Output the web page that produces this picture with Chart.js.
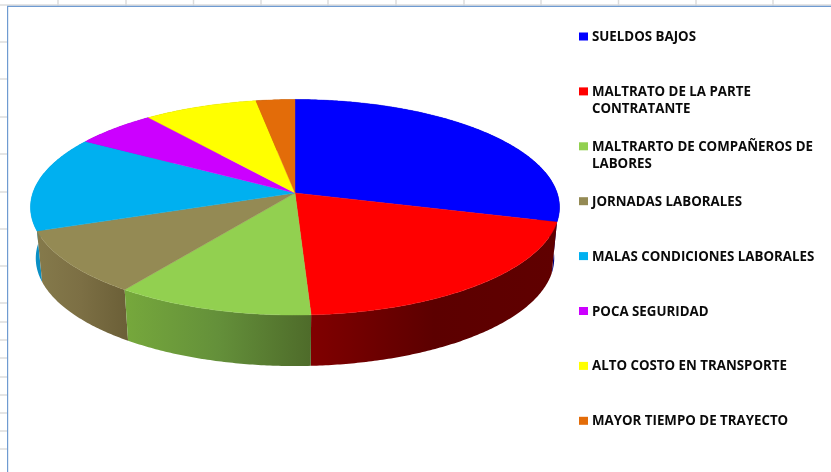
<!DOCTYPE html>
<html><head><meta charset="utf-8">
<style>html,body{margin:0;padding:0;background:#fff}#w{position:relative;width:831px;height:472px}</style>
<script src="https://cdn.jsdelivr.net/npm/chart.js@4"></script>
</head><body><div id="w"><canvas id="c" width="831" height="472"></canvas></div>
<script>
const categories = ["SUELDOS BAJOS","MALTRATO DE LA PARTE CONTRATANTE","MALTRARTO DE COMPAÑEROS DE LABORES","JORNADAS LABORALES","MALAS CONDICIONES LABORALES","POCA SEGURIDAD","ALTO COSTO EN TRANSPORTE","MAYOR TIEMPO DE TRAYECTO"];
const legendLines = [["SUELDOS BAJOS"],["MALTRATO DE LA PARTE","CONTRATANTE"],["MALTRARTO DE COMPAÑEROS DE","LABORES"],["JORNADAS LABORALES"],["MALAS CONDICIONES LABORALES"],["POCA SEGURIDAD"],["ALTO COSTO EN TRANSPORTE"],["MAYOR TIEMPO DE TRAYECTO"]];
const values = [29.3,19.9,10.7,9.6,14.3,5.7,7.9,2.7];
const colors = ["#0000ff","#ff0000","#92d050","#948a54","#00b0f0","#cc00ff","#ffff00","#e36c09"];
const sideStops = [["#000080","#000070"],["#800000","#5c0000","#600000"],["#76a83c","#64903a","#4e6b2a"],["#857a4b","#7c6f44","#6c6038"],["#0a9fd8","#0a8fc4"],["#7a0099","#7a0099"],["#999900","#999900"],["#8a4206","#8a4206"]];

const persp = {k:0.1323, ax:262.2, ay:105.9, depth:51, bottomScale:0.98};
const legendBox = {x:579, w:9, h:8, textX:592, firstY:36.5, textDy:0.8, step:54.9, lineStep:17.2, font:'bold 13.3px "Open Sans"', color:"#0a0a0a"};
const sheetColX = [58,126,193.5,261,328,396,464,541,618.5,696,773];
const sheetRowY = [42,79,117,154,192,229,266,303,322,340,358,377,395,413,431,449];

function project(el,a,bottom){
  const c=Math.cos(a), s=Math.sin(a), w=1-persp.k*s;
  let X=persp.ax*c/w, Y=persp.ay*s/w;
  if(bottom){X*=persp.bottomScale; Y+=persp.depth;}
  return [el.x+X, el.y+Y];
}
function rim(el,from,to,bottom,out){
  const n=Math.max(2,Math.ceil(Math.abs(to-from)/0.01));
  for(let i=0;i<=n;i++){const p=project(el,from+(to-from)*i/n,bottom); out.push(p);}
}
// top face of every slice: the library's arc element, drawn in perspective
Chart.ArcElement.prototype.draw=function(ctx){
  const pts=[]; rim(this,this.startAngle,this.endAngle,false,pts);
  ctx.save();
  ctx.beginPath(); ctx.moveTo(this.x,this.y);
  pts.forEach(p=>ctx.lineTo(p[0],p[1]));
  ctx.closePath();
  ctx.fillStyle=this.options.backgroundColor; ctx.fill();
  ctx.strokeStyle=this.options.backgroundColor; ctx.lineWidth=0.4; ctx.stroke();
  ctx.restore();
};
const sheet={id:'sheet',beforeDraw(chart){
  const x=chart.ctx; x.save(); x.strokeStyle="#dcdcdc"; x.lineWidth=1.5;
  sheetColX.forEach(v=>{x.beginPath();x.moveTo(v,0);x.lineTo(v,6);x.stroke();});
  x.beginPath();x.moveTo(0,5);x.lineTo(831,5);x.stroke();
  sheetRowY.forEach(v=>{x.beginPath();x.moveTo(0,v);x.lineTo(8,v);x.stroke();});
  x.strokeStyle="#6f9bd1"; x.lineWidth=1.2;
  x.beginPath();x.moveTo(7.6,472);x.lineTo(7.6,6.4);x.lineTo(831,6.4);x.stroke();
  x.restore();
}};
const sides={id:'sides',beforeDatasetsDraw(chart){
  const x=chart.ctx, arcs=chart.getDatasetMeta(0).data.map((el,i)=>({el,i}));
  arcs.sort((a,b)=>Math.sin((a.el.startAngle+a.el.endAngle)/2)-Math.sin((b.el.startAngle+b.el.endAngle)/2));
  arcs.forEach(({el,i})=>{
    const top=[],bot=[]; rim(el,el.startAngle,el.endAngle,false,top); rim(el,el.startAngle,el.endAngle,true,bot);
    const xs=top.filter((p,j)=>Math.sin(el.startAngle+(el.endAngle-el.startAngle)*j/(top.length-1))>0).map(p=>p[0]);
    const x0=xs.length?Math.min(...xs):top[0][0], x1=xs.length?Math.max(...xs):top[0][0]+1;
    const g=x.createLinearGradient(x0,0,Math.max(x1,x0+1),0), st=sideStops[i];
    st.forEach((c,j)=>g.addColorStop(j/(st.length-1),c));
    x.beginPath(); top.forEach((p,j)=>j?x.lineTo(p[0],p[1]):x.moveTo(p[0],p[1]));
    bot.reverse().forEach(p=>x.lineTo(p[0],p[1])); x.closePath();
    x.fillStyle=g; x.fill();
  });
}};
const legendDraw={id:'legendDraw',afterDraw(chart){
  const x=chart.ctx, L=legendBox; x.save(); x.textBaseline='middle'; x.textAlign='left'; x.font=L.font;
  legendLines.forEach((lines,i)=>{
    const y=L.firstY+i*L.step;
    x.fillStyle=colors[i]; x.fillRect(L.x,y-L.h/2,L.w,L.h);
    x.fillStyle=L.color; lines.forEach((t,j)=>x.fillText(t,L.textX,y+L.textDy+j*L.lineStep));
  });
  x.restore();
}};
new Chart(document.getElementById('c'),{
  type:'pie',
  data:{labels:categories,datasets:[{data:values,backgroundColor:colors,borderWidth:0}]},
  options:{responsive:false,animation:false,
    layout:{padding:{left:0,right:241,top:0,bottom:86}},
    plugins:{legend:{display:false},tooltip:{enabled:false}}},
  plugins:[sheet,sides,legendDraw]
});
</script></body></html>
